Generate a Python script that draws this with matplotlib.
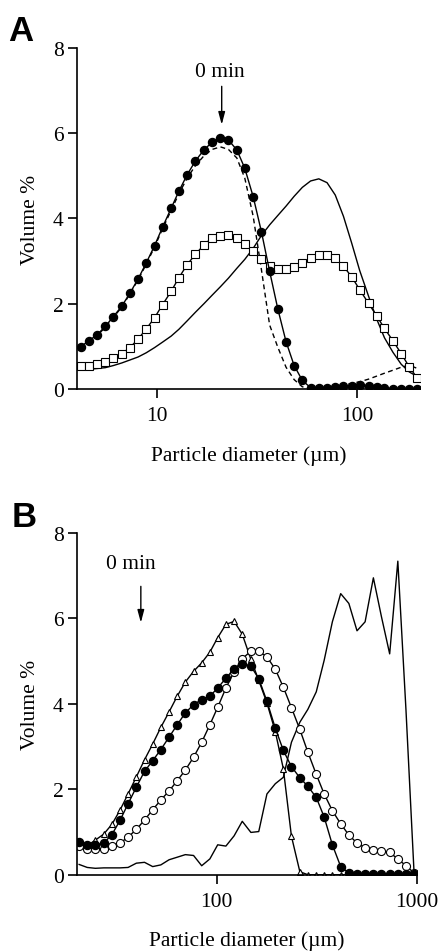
import numpy as np
import matplotlib
matplotlib.use('Agg')
import matplotlib.pyplot as plt
from matplotlib.ticker import NullLocator

plt.rcParams['font.family'] = ['Liberation Serif', 'DejaVu Serif']

# ---- panel A data (diameter in um, volume %) ----
dA = [4.17, 4.58, 5.04, 5.54, 6.08, 6.69, 7.35, 8.07, 8.87, 9.75,
      10.7, 11.8, 12.9, 14.2, 15.6, 17.2, 18.9, 20.8, 22.8, 25.1,
      27.5, 30.3, 33.3, 36.6, 40.2, 44.2, 48.5, 53.3, 58.6, 64.4,
      70.8, 77.8, 85.5, 94.0, 103, 114, 125, 137, 151, 166,
      182, 200]
a_filled = [0.99, 1.13, 1.27, 1.47, 1.70, 1.94, 2.25, 2.58, 2.96, 3.36,
            3.80, 4.24, 4.64, 5.03, 5.35, 5.61, 5.79, 5.88, 5.84, 5.61,
            5.18, 4.51, 3.69, 2.76, 1.88, 1.11, 0.55, 0.20, 0.03, 0.02,
            0.03, 0.05, 0.07, 0.08, 0.09, 0.08, 0.05, 0.02, 0.01, 0.0,
            0.0, 0.0]
a_square = [0.53, 0.55, 0.59, 0.64, 0.72, 0.83, 0.97, 1.17, 1.41, 1.67,
            1.98, 2.29, 2.61, 2.92, 3.16, 3.38, 3.55, 3.60, 3.61, 3.54,
            3.40, 3.24, 3.05, 2.89, 2.82, 2.82, 2.87, 2.96, 3.08, 3.15,
            3.15, 3.07, 2.88, 2.63, 2.33, 2.01, 1.72, 1.42, 1.13, 0.83,
            0.52, 0.25]
a_dashed = [0.97, 1.11, 1.25, 1.45, 1.68, 1.92, 2.23, 2.56, 2.93, 3.33,
            3.76, 4.19, 4.58, 4.95, 5.24, 5.47, 5.62, 5.68, 5.62, 5.42,
            4.95, 4.05, 2.80, 1.50, 0.98, 0.51, 0.22, 0.05, 0.03, 0.03,
            0.04, 0.06, 0.09, 0.13, 0.17, 0.23, 0.30, 0.37, 0.44, 0.51,
            0.56, 0.48]
a_solid = [0.44, 0.46, 0.48, 0.50, 0.55, 0.61, 0.68, 0.75, 0.85, 0.97,
           1.10, 1.24, 1.40, 1.60, 1.80, 2.00, 2.20, 2.40, 2.60, 2.83,
           3.04, 3.30, 3.60, 3.85, 4.07, 4.29, 4.52, 4.73, 4.88, 4.93,
           4.84, 4.55, 4.05, 3.42, 2.78, 2.18, 1.65, 1.20, 0.86, 0.58,
           0.40, 0.29]

# ---- panel B data ----
dB = [20.5, 22.5, 24.7, 27.2, 29.9, 32.8, 36.0, 39.6, 43.5, 47.8,
      52.5, 57.7, 63.4, 69.6, 76.5, 84.0, 92.3, 101, 111, 122,
      134, 148, 162, 178, 196, 215, 236, 260, 285, 314,
      344, 378, 416, 457, 502, 551, 606, 665, 731, 803,
      882, 969]
b_triangle = [0.70, 0.68, 0.81, 0.95, 1.18, 1.51, 1.89, 2.29, 2.69, 3.06,
              3.45, 3.81, 4.18, 4.51, 4.76, 4.96, 5.21, 5.55, 5.86, 5.93,
              5.63, 5.04, 4.55, 4.02, 3.35, 2.48, 0.90, 0.07, 0.0, 0.0,
              0.0, 0.0, 0.0, 0.0, 0.0, 0.0, 0.0, 0.0, 0.0, 0.0,
              0.0, 0.0]
b_filled = [0.76, 0.70, 0.70, 0.74, 0.94, 1.27, 1.66, 2.05, 2.42, 2.67,
            2.93, 3.22, 3.51, 3.79, 3.98, 4.10, 4.18, 4.37, 4.60, 4.82,
            4.94, 4.88, 4.59, 4.06, 3.43, 2.91, 2.53, 2.27, 2.07, 1.81,
            1.35, 0.70, 0.19, 0.04, 0.02, 0.02, 0.02, 0.02, 0.02, 0.02,
            0.02, 0.02]
b_open = [0.67, 0.60, 0.60, 0.60, 0.67, 0.74, 0.88, 1.06, 1.28, 1.52,
          1.75, 1.96, 2.20, 2.45, 2.75, 3.10, 3.51, 3.92, 4.37, 4.75,
          5.06, 5.23, 5.23, 5.10, 4.81, 4.39, 3.91, 3.40, 2.87, 2.35,
          1.89, 1.50, 1.19, 0.93, 0.74, 0.63, 0.58, 0.55, 0.52, 0.37,
          0.21, 0.04]
b_solid = [0.24, 0.17, 0.15, 0.16, 0.16, 0.16, 0.17, 0.27, 0.29, 0.19,
           0.23, 0.35, 0.41, 0.47, 0.45, 0.21, 0.37, 0.70, 0.67, 0.91,
           1.25, 0.99, 1.01, 1.89, 2.13, 2.28, 3.10, 3.57, 3.87, 4.28,
           5.02, 5.92, 6.58, 6.35, 5.71, 5.92, 6.95, 6.04, 5.17, 7.34,
           3.85, 0.0]

yticks = [0, 2, 4, 6, 8]
FS = 15.5
LW = 1.0
MS = 5.8
MEW = 0.8

fig = plt.figure(figsize=(4.42, 9.53), dpi=100)
axA = fig.add_axes([0.1742, 0.5908, 0.776, 0.3578])
axB = fig.add_axes([0.1742, 0.0811, 0.769, 0.3586])


def style(ax, xlim, xt, xtl):
    ax.set_xscale('log')
    ax.set_xlim(*xlim)
    ax.set_ylim(0, 8)
    ax.spines['top'].set_visible(False)
    ax.spines['right'].set_visible(False)
    for s in ['left', 'bottom']:
        ax.spines[s].set_linewidth(1.2)
    ax.set_xticks(xt)
    ax.set_xticklabels(xtl)
    ax.xaxis.set_minor_locator(NullLocator())
    ax.set_yticks(yticks)
    ax.set_yticklabels([str(v) for v in yticks])
    ax.tick_params(direction='out', length=6.5, width=1.2, labelsize=FS, pad=3)
    ax.tick_params(axis='x', pad=6)
    ax.set_ylabel('Volume %', fontsize=FS, labelpad=9)
    ax.set_xlabel('Particle diameter (µm)', fontsize=FS, labelpad=14)


# panel A
axA.plot(dA, a_solid, '-', color='black', lw=LW)
axA.plot(dA, a_dashed, '--', color='black', lw=LW, dashes=(3.5, 2.5))
axA.plot(dA, a_square, '-s', color='black', lw=LW, ms=MS - 0.2, mfc='white', mec='black', mew=MEW)
axA.plot(dA, a_filled, '-o', color='black', lw=LW, ms=MS, mfc='black', mec='black')
style(axA, (4.0, 206), [10, 100], ['10', '100'])
axA.text(20.6, 7.44, '0 min', fontsize=FS, ha='center', va='center')
axA.annotate('', xy=(21.1, 6.2), xytext=(21.1, 7.1),
             arrowprops=dict(arrowstyle='-|>,head_length=0.75,head_width=0.2',
                             color='black', lw=1.0, shrinkA=0, shrinkB=0))

# panel B
axB.plot(dB, b_solid, '-', color='black', lw=LW)
axB.plot(dB, b_triangle, '-^', color='black', lw=LW, ms=MS - 0.8, mfc='white', mec='black', mew=MEW)
axB.plot(dB, b_open, '-o', color='black', lw=LW, ms=MS, mfc='white', mec='black', mew=MEW)
axB.plot(dB, b_filled, '-o', color='black', lw=LW, ms=MS, mfc='black', mec='black')
style(axB, (20, 1000), [100, 1000], ['100', '1000'])
axB.text(37.2, 7.28, '0 min', fontsize=FS, ha='center', va='center')
axB.annotate('', xy=(41.7, 5.9), xytext=(41.7, 6.75),
             arrowprops=dict(arrowstyle='-|>,head_length=0.75,head_width=0.2',
                             color='black', lw=1.0, shrinkA=0, shrinkB=0))

fig.text(8 / 442, 1 - 41 / 953, 'A', fontsize=25, fontweight='bold',
         family='Liberation Sans', va='baseline', ha='left')
fig.text(12 / 442, 1 - 527 / 953, 'B', fontsize=25, fontweight='bold',
         family='Liberation Sans', va='baseline', ha='left')

fig.savefig('out.png', dpi=100)
